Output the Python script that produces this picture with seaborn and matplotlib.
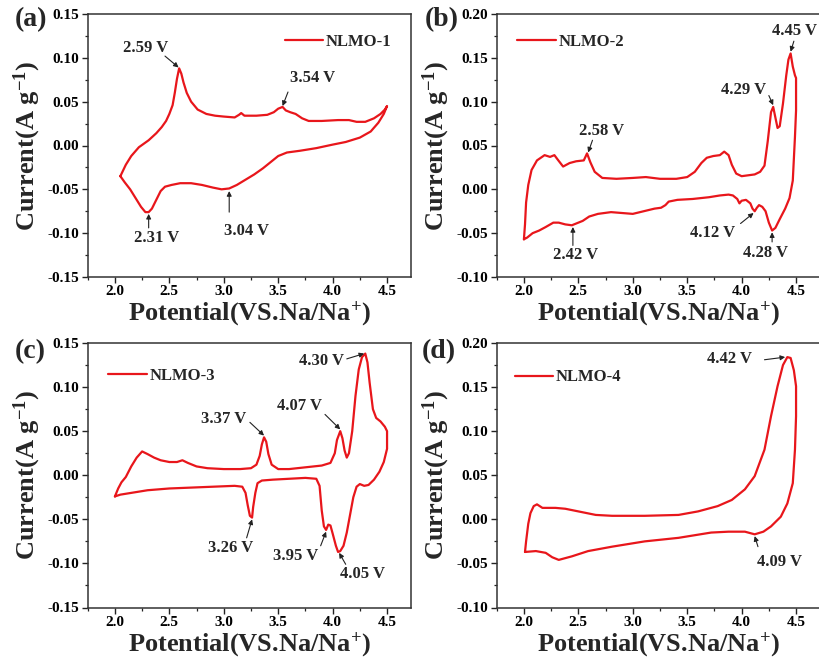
import numpy as np
import pandas as pd
import matplotlib
matplotlib.use("Agg")
import matplotlib.pyplot as plt
from matplotlib.ticker import MultipleLocator, FormatStrFormatter
import seaborn as sns

# ---------------- data ----------------
# NLMO-1
a_up_V = [2.05, 2.10, 2.15, 2.22, 2.31, 2.38, 2.43, 2.47, 2.50, 2.53, 2.55, 2.57, 2.59, 2.61, 2.63,
          2.66, 2.70, 2.76, 2.84, 2.92, 3.00, 3.10, 3.14, 3.16, 3.19, 3.22, 3.30, 3.40, 3.46, 3.50,
          3.54, 3.57, 3.61, 3.66, 3.72, 3.78, 3.90, 4.05, 4.15, 4.22, 4.30, 4.38, 4.44, 4.48, 4.50]
a_up_I = [-0.035, -0.022, -0.012, -0.002, 0.006, 0.014, 0.021, 0.028, 0.036, 0.046, 0.060, 0.076, 0.088, 0.082, 0.072,
          0.060, 0.050, 0.041, 0.036, 0.034, 0.033, 0.032, 0.035, 0.037, 0.034, 0.034, 0.034, 0.035, 0.038, 0.042,
          0.044, 0.040, 0.038, 0.036, 0.031, 0.028, 0.028, 0.029, 0.029, 0.027, 0.027, 0.031, 0.036, 0.041, 0.045]
a_dn_V = [4.50, 4.47, 4.42, 4.35, 4.25, 4.12, 4.00, 3.85, 3.70, 3.58, 3.50, 3.43, 3.36, 3.28, 3.20, 3.12, 3.05,
          2.98, 2.90, 2.80, 2.70, 2.60, 2.52, 2.46, 2.42, 2.38, 2.34, 2.31, 2.28, 2.24, 2.19, 2.14, 2.09, 2.05]
a_dn_I = [0.045, 0.036, 0.026, 0.016, 0.009, 0.004, 0.001, -0.003, -0.006, -0.008, -0.012, -0.019, -0.026, -0.033,
          -0.039, -0.045, -0.049, -0.050, -0.048, -0.045, -0.043, -0.043, -0.045, -0.047, -0.052, -0.062, -0.072,
          -0.076, -0.076, -0.070, -0.060, -0.050, -0.042, -0.035]

# NLMO-2
b_up_V = [2.00, 2.01, 2.02, 2.04, 2.07, 2.12, 2.19, 2.24, 2.28, 2.31, 2.36, 2.42, 2.48, 2.55, 2.58, 2.61, 2.65,
          2.72, 2.85, 3.00, 3.12, 3.25, 3.40, 3.50, 3.57, 3.63, 3.68, 3.74, 3.80, 3.84, 3.88, 3.91, 3.95, 4.00,
          4.06, 4.12, 4.17, 4.21, 4.24, 4.27, 4.29, 4.31, 4.33, 4.35, 4.38, 4.41, 4.43, 4.45, 4.47, 4.49, 4.50]
b_up_I = [-0.057, -0.040, -0.015, 0.005, 0.022, 0.033, 0.039, 0.037, 0.039, 0.034, 0.026, 0.030, 0.032, 0.033,
          0.041, 0.031, 0.020, 0.013, 0.012, 0.013, 0.014, 0.012, 0.012, 0.014, 0.020, 0.030, 0.036, 0.038, 0.039,
          0.043, 0.039, 0.028, 0.018, 0.015, 0.016, 0.017, 0.020, 0.027, 0.055, 0.088, 0.094, 0.082, 0.070, 0.072,
          0.098, 0.130, 0.148, 0.155, 0.140, 0.130, 0.127]
b_dn_V = [4.50, 4.50, 4.49, 4.47, 4.44, 4.40, 4.35, 4.31, 4.28, 4.25, 4.22, 4.19, 4.16, 4.14, 4.12, 4.10, 4.08,
          4.04, 4.00, 3.98, 3.96, 3.92, 3.88, 3.80, 3.70, 3.55, 3.41, 3.33, 3.30, 3.26, 3.20, 3.10, 3.00, 2.90,
          2.80, 2.68, 2.60, 2.54, 2.48, 2.44, 2.38, 2.32, 2.27, 2.20, 2.14, 2.08, 2.03, 2.00]
b_dn_I = [0.127, 0.090, 0.060, 0.010, -0.010, -0.022, -0.034, -0.044, -0.047, -0.038, -0.025, -0.020, -0.018,
          -0.021, -0.025, -0.022, -0.016, -0.012, -0.013, -0.016, -0.011, -0.007, -0.006, -0.007, -0.009, -0.011,
          -0.012, -0.014, -0.018, -0.021, -0.022, -0.025, -0.028, -0.027, -0.026, -0.028, -0.031, -0.036, -0.039,
          -0.041, -0.040, -0.038, -0.038, -0.043, -0.047, -0.050, -0.055, -0.057]

# NLMO-3
c_up_V = [2.00, 2.03, 2.06, 2.10, 2.15, 2.20, 2.25, 2.30, 2.36, 2.42, 2.50, 2.57, 2.62, 2.67, 2.75, 2.85, 3.00,
          3.15, 3.25, 3.30, 3.33, 3.35, 3.37, 3.39, 3.41, 3.44, 3.50, 3.60, 3.75, 3.90, 3.98, 4.02, 4.04, 4.07,
          4.09, 4.11, 4.13, 4.15, 4.18, 4.21, 4.24, 4.27, 4.30, 4.32, 4.34, 4.37, 4.40, 4.44, 4.48, 4.50]
c_up_I = [-0.024, -0.015, -0.008, -0.002, 0.010, 0.020, 0.027, 0.024, 0.020, 0.017, 0.015, 0.015, 0.017, 0.014,
          0.010, 0.008, 0.007, 0.007, 0.008, 0.012, 0.022, 0.035, 0.043, 0.038, 0.024, 0.012, 0.007, 0.007, 0.009,
          0.011, 0.014, 0.025, 0.040, 0.050, 0.042, 0.028, 0.020, 0.025, 0.050, 0.090, 0.120, 0.134, 0.138, 0.128,
          0.105, 0.075, 0.065, 0.061, 0.055, 0.050]
c_dn_V = [4.50, 4.50, 4.47, 4.43, 4.38, 4.33, 4.29, 4.25, 4.22, 4.19, 4.16, 4.13, 4.10, 4.07, 4.05, 4.03, 4.00,
          3.98, 3.96, 3.94, 3.92, 3.90, 3.88, 3.85, 3.75, 3.60, 3.45, 3.35, 3.31, 3.29, 3.27, 3.26, 3.24, 3.22,
          3.20, 3.17, 3.10, 2.90, 2.70, 2.50, 2.30, 2.15, 2.05, 2.00]
c_dn_I = [0.050, 0.030, 0.015, 0.004, -0.005, -0.011, -0.012, -0.010, -0.013, -0.025, -0.045, -0.065, -0.080,
          -0.086, -0.087, -0.080, -0.066, -0.057, -0.056, -0.062, -0.058, -0.040, -0.012, -0.004, -0.003, -0.004,
          -0.005, -0.006, -0.009, -0.020, -0.036, -0.048, -0.046, -0.034, -0.020, -0.013, -0.012, -0.013, -0.014,
          -0.015, -0.017, -0.020, -0.022, -0.024]

# NLMO-4
d_up_V = [2.01, 2.02, 2.04, 2.06, 2.09, 2.12, 2.17, 2.29, 2.38, 2.50, 2.66, 2.81, 3.11, 3.42, 3.60, 3.78, 3.91,
          4.03, 4.12, 4.21, 4.27, 4.33, 4.38, 4.42, 4.45, 4.48, 4.50]
d_up_I = [-0.037, -0.025, -0.005, 0.007, 0.015, 0.017, 0.013, 0.013, 0.012, 0.009, 0.005, 0.004, 0.004, 0.005,
          0.009, 0.015, 0.022, 0.034, 0.049, 0.079, 0.117, 0.151, 0.175, 0.184, 0.183, 0.169, 0.151]
d_dn_V = [4.50, 4.50, 4.49, 4.47, 4.42, 4.36, 4.27, 4.20, 4.12, 4.03, 3.88, 3.72, 3.42, 3.11, 2.81, 2.59, 2.44,
          2.32, 2.26, 2.20, 2.11, 2.01]
d_dn_I = [0.151, 0.117, 0.079, 0.041, 0.018, 0.003, -0.008, -0.014, -0.017, -0.014, -0.014, -0.015, -0.021,
          -0.025, -0.031, -0.036, -0.042, -0.046, -0.043, -0.038, -0.036, -0.037]

sample_names = ["NLMO-1", "NLMO-2", "NLMO-3", "NLMO-4"]
panel_tags = ["(a)", "(b)", "(c)", "(d)"]
x_ticks = [2.0, 2.5, 3.0, 3.5, 4.0, 4.5]
y_ranges = [(-0.15, 0.15), (-0.10, 0.20), (-0.15, 0.15), (-0.10, 0.20)]

# peak labels: (text, text position, arrow tail, arrow head)
peaks_a = [("2.59 V", (2.28, 0.111), (2.46, 0.102), (2.585, 0.089)),
           ("3.54 V", (3.82, 0.077), (3.59, 0.061), (3.54, 0.045)),
           ("2.31 V", (2.38, -0.105), (2.31, -0.094), (2.31, -0.078)),
           ("3.04 V", (3.21, -0.098), (3.05, -0.076), (3.05, -0.052))]
peaks_b = [("2.58 V", (2.71, 0.067), (2.63, 0.056), (2.59, 0.042)),
           ("4.29 V", (4.02, 0.113), (4.25, 0.107), (4.29, 0.096)),
           ("4.45 V", (4.49, 0.181), (4.48, 0.169), (4.45, 0.157)),
           ("4.12 V", (3.73, -0.050), (3.99, -0.039), (4.11, -0.027)),
           ("4.28 V", (4.22, -0.073), (4.28, -0.060), (4.28, -0.049)),
           ("2.42 V", (2.47, -0.075), (2.45, -0.064), (2.45, -0.043))]
peaks_c = [("3.37 V", (3.00, 0.064), (3.24, 0.060), (3.37, 0.045)),
           ("4.07 V", (3.70, 0.079), (3.93, 0.069), (4.07, 0.052)),
           ("4.30 V", (3.90, 0.130), (4.13, 0.132), (4.29, 0.138)),
           ("3.26 V", (3.06, -0.082), (3.21, -0.071), (3.26, -0.050)),
           ("3.95 V", (3.66, -0.092), (3.89, -0.080), (3.94, -0.064)),
           ("4.05 V", (4.27, -0.112), (4.12, -0.101), (4.06, -0.088))]
peaks_d = [("4.42 V", (3.89, 0.182), (4.21, 0.181), (4.40, 0.184)),
           ("4.09 V", (4.35, -0.048), (4.15, -0.031), (4.12, -0.019))]

# ---------------- style ----------------
sns.set_theme(style="ticks")
plt.rcParams.update({
    "font.family": ["Liberation Serif", "DejaVu Serif"],
    "font.weight": "bold",
    "axes.labelweight": "bold",
    "axes.unicode_minus": False,
    "mathtext.fontset": "custom",
    "mathtext.rm": "Liberation Serif:bold",
    "mathtext.bf": "Liberation Serif:bold",
    "mathtext.it": "Liberation Serif:italic:bold",
})

RED = "#e8161b"
fig = plt.figure(figsize=(8.19, 6.68), dpi=100)
W, H = 819.0, 668.0
boxes = [(87.7, 14, 323.3, 263), (496.7, 14, 323.3, 263),
         (87.7, 343, 323.3, 264.5), (496.7, 343, 323.3, 264.5)]
legend_pos = [(0.61, 0.895), (0.064, 0.895), (0.064, 0.876), (0.057, 0.870)]
tag_pos = [(15, 20), (425, 20), (15, 352), (422, 352)]

curves = [(a_up_V, a_up_I, a_dn_V, a_dn_I), (b_up_V, b_up_I, b_dn_V, b_dn_I),
          (c_up_V, c_up_I, c_dn_V, c_dn_I), (d_up_V, d_up_I, d_dn_V, d_dn_I)]
peaks = [peaks_a, peaks_b, peaks_c, peaks_d]

for k in range(4):
    l, t, w, h = boxes[k]
    ax = fig.add_axes([l / W, 1 - (t + h) / H, w / W, h / H])
    uv, ui, dv, di = curves[k]
    df = pd.DataFrame({"Potential": list(uv) + list(dv), "Current": list(ui) + list(di)})
    sns.lineplot(data=df, x="Potential", y="Current", sort=False, estimator=None,
                 color=RED, lw=1.6, ax=ax, label=sample_names[k])
    ax.set_xlim(1.75, 4.72)
    ax.set_ylim(*y_ranges[k])
    ax.set_xticks(x_ticks)
    ax.xaxis.set_minor_locator(MultipleLocator(0.25))
    ax.yaxis.set_major_locator(MultipleLocator(0.05))
    ax.yaxis.set_minor_locator(MultipleLocator(0.025))
    ax.xaxis.set_major_formatter(FormatStrFormatter("%.1f"))
    ax.yaxis.set_major_formatter(FormatStrFormatter("%.2f"))
    ax.tick_params(which="major", direction="out", length=4, width=1.0, labelsize=11,
                   colors="#222222", labelcolor="black", pad=2)
    ax.tick_params(which="minor", direction="out", length=2.5, width=0.9, colors="#222222")
    ax.tick_params(top=False, right=False, which="both")
    for lab in ax.get_xticklabels() + ax.get_yticklabels():
        lab.set_fontweight("bold")
    for sp in ax.spines.values():
        sp.set_linewidth(1.1)
        sp.set_color("#333333")
        sp.set_visible(True)
    ax.set_xlabel(r"Potential(VS.Na/Na$^{+}$)", fontsize=19, fontweight="bold", labelpad=1)
    ax.set_ylabel(r"Current(A g$^{-1}$)", fontsize=19, fontweight="bold", labelpad=3)
    lx, ly = legend_pos[k]
    ax.legend(loc="center left", bbox_to_anchor=(lx, ly), frameon=False, borderpad=0,
              borderaxespad=0, handlelength=2.3, handletextpad=0.15,
              prop={"weight": "bold", "size": 12, "family": "Liberation Serif"})
    for txt, tp, tail, head in peaks[k]:
        ax.text(tp[0], tp[1], txt, ha="center", va="center", fontsize=12, fontweight="bold",
                clip_on=False)
        ax.annotate("", xy=head, xytext=tail,
                    arrowprops=dict(arrowstyle="-|>", color="#222222", lw=0.8,
                                    mutation_scale=7, shrinkA=0, shrinkB=0))
    tx, ty = tag_pos[k]
    fig.text(tx / W, 1 - ty / H, panel_tags[k], fontsize=20, fontweight="bold",
             ha="left", va="center")

fig.savefig("out.png", dpi=100)
